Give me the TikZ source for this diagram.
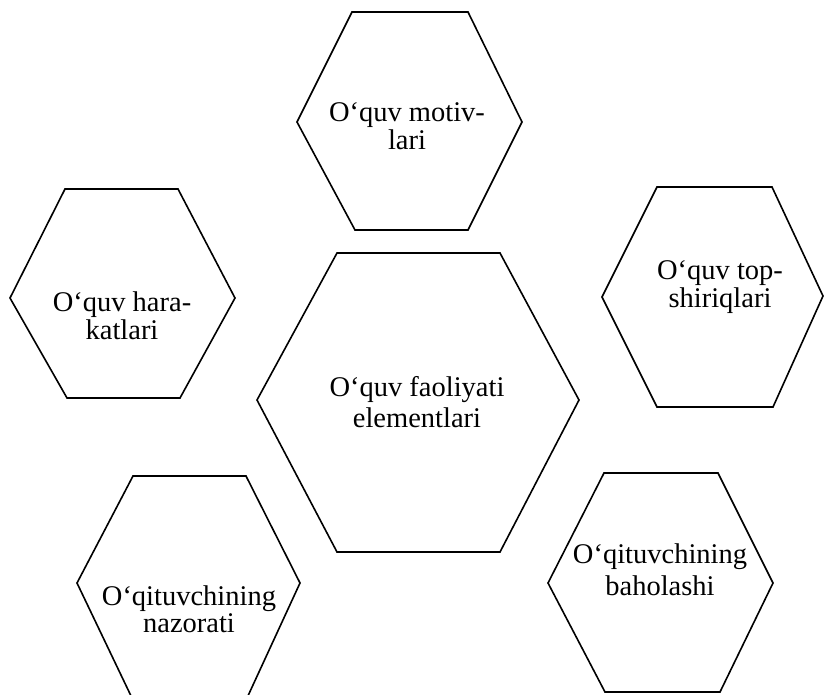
\documentclass[tikz,border=0pt]{standalone}
\usepackage{fontspec}
\setmainfont{Liberation Serif}
\begin{document}
\begin{tikzpicture}[x=1pt,y=-1pt,
  hexline/.style={draw=black,line width=1.6pt,line join=miter},
  lbl/.style={align=center,inner sep=0pt,anchor=center,text=black}]
\useasboundingbox (0,0) rectangle (824,694);
\clip (0,0) rectangle (824,694);
\fill[white] (0,0) rectangle (824,694);
% top
\draw[hexline] (352,12) -- (468,12) -- (522,122) -- (468,230) -- (355,230) -- (297,122) -- cycle;
\node[lbl,font=\fontsize{28.5}{24}\selectfont] (motiv) at (407,130) {\strut O‘quv motiv-\\\strut lari};
% left
\draw[hexline] (65,189) -- (178,189) -- (235,298) -- (180,398) -- (67,398) -- (10,298) -- cycle;
\node[lbl,font=\fontsize{28.5}{24}\selectfont] (harakat) at (122,319) {\strut O‘quv hara-\\\strut katlari};
% right
\draw[hexline] (657,187) -- (772,187) -- (823,296) -- (773,407) -- (657,407) -- (602,297) -- cycle;
\node[lbl,font=\fontsize{28.5}{25}\selectfont] (topshiriq) at (720,288) {\strut O‘quv top-\\\strut shiriqlari};
% centre
\draw[hexline] (337,253) -- (500,253) -- (579,400) -- (500,552) -- (337,552) -- (257,400) -- cycle;
\node[lbl,font=\fontsize{28.5}{31}\selectfont] (markaz) at (417,406) {\strut O‘quv faoliyati\\\strut elementlari};
% bottom left
\draw[hexline] (133,476) -- (246,476) -- (300,583) -- (247,698) -- (132,698) -- (77,583) -- cycle;
\node[lbl,font=\fontsize{28.5}{27}\selectfont] (nazorat) at (189,613) {\strut O‘qituvchining\\\strut nazorati};
% bottom right
\draw[hexline] (604,473) -- (718,473) -- (773,583) -- (720,692) -- (605,692) -- (548,583) -- cycle;
\node[lbl,font=\fontsize{28.5}{32}\selectfont] (baho) at (660,573) {\strut O‘qituvchining\\\strut baholashi};
\end{tikzpicture}
\end{document}
